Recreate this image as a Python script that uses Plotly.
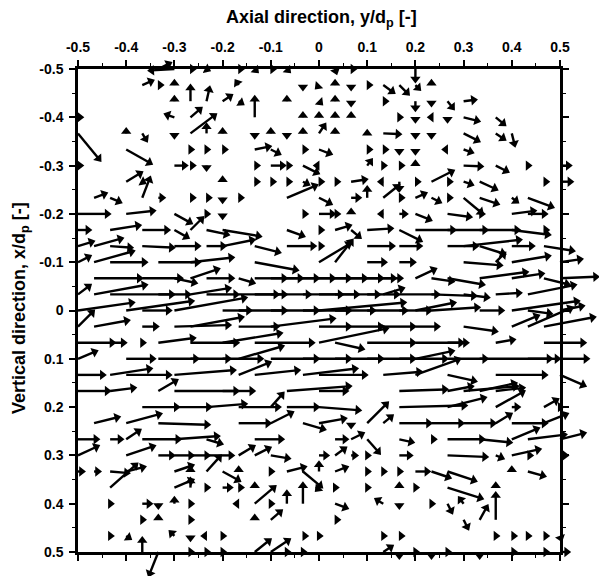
import math
import plotly.graph_objects as go

# ---------------- data ----------------
# measurement grid: 31 x 31 points, spacing 1/30 d_p
grid_x = [-0.5 + k / 30 for k in range(31)]   # axial positions y/dp
grid_y = [-0.5 + j / 30 for j in range(31)]   # vertical positions x/dp

# velocity vectors per grid row: (column index, u, v)  [u, v in grid-cell units]
row00 = [(5,0.8,-0.4),(6,-1.6,0.1),(7,0.3,0),(8,0.2,0.1),(10,0.3,0),(11,0.2,0.2),(12,0.3,0),(13,0.2,0.2),(16,0.1,0.3),(17,0.3,0),(21,0,0.8)]
row01 = [(4,0.7,-0.3),(5,0.3,0),(6,0,-0.3),(10,-0.2,-0.3),(14,0,0.3),(15,-0.2,0.2),(16,0,-0.3),(17,0,0.3),(18,0.3,0),(19,0.7,0.5),(20,0.6,0.6),(21,0.3,0.3),(22,0,-0.3)]
row02 = [(6,0,-0.3),(7,0,-1.0),(8,0.2,-0.9),(9,0.6,-0.4),(10,0.3,0.2),(13,0,-0.3),(15,0.2,0.2),(16,0,-0.3),(17,0,0.3),(19,0.3,0),(21,0,0.6),(22,0,0.3),(23,0.4,0.5),(24,0.8,-0.1)]
row03 = [(0,0.3,0),(6,-0.6,-0.2),(7,0.7,-0.6),(11,0,-1.3),(14,0,-0.3),(15,0,-0.3),(16,0,-0.3),(17,0,-0.3),(20,0.2,0),(21,0,0.3),(22,-0.2,0),(23,0,0.3),(24,1.0,0.25),(26,0.6,0.5)]
row04 = [(0,1.4,1.7),(3,0,-0.3),(4,0.3,0.5),(6,0,0.3),(7,1.6,-1.2),(8,0,-0.6),(9,0,-0.3),(11,0,0.3),(12,0,-0.3),(13,0,0.3),(14,0,-0.3),(15,0.4,-0.6),(16,0,-0.3),(18,0,-0.2),(19,1.1,0.05),(21,0,0.3),(22,0,0.3),(24,1.0,0.5),(26,0.6,0.4),(27,0.2,0.8)]
row05 = [(3,1.6,0.9),(7,0.2,0),(8,0.2,0),(9,0.3,0),(11,1.0,-0.2),(12,0.6,0.3),(14,0.3,0),(15,0.8,0.3),(18,0.3,0),(19,0.3,0),(20,0,0.3),(21,0,0.3),(23,-0.3,0),(24,0.6,0.2)]
row06 = [(0,0.3,0),(6,0.8,0),(7,0.3,0),(8,0,0.3),(11,0.3,0),(12,0.9,0),(13,0.3,0),(14,1.0,0.5),(15,-0.3,0),(18,0.3,-0.4),(19,0.2,0),(20,0.3,0),(21,0,-0.3),(24,1.2,0.05),(26,0.8,0.4),(28,0.2,0),(30,0.7,0)]
row07 = [(3,1.0,-0.6),(4,0.2,0.1),(9,0,-0.3),(11,0.3,0),(12,0.3,0),(13,0.3,0),(14,0.4,0.2),(15,0.3,0),(16,0.3,0),(17,1.0,-0.15),(19,-0.3,0),(20,0,0.6),(21,0.3,0),(22,1.4,-0.7),(23,0.3,0),(24,0.6,0.2),(25,1.1,0.5),(29,0.3,0),(30,0.8,0)]
row08 = [(1,0.8,-0.3),(2,0.7,0.3),(4,0.5,-1.3),(5,0.4,0),(7,0.3,0),(8,0.3,0),(9,0,0.3),(10,0.3,0),(13,1.9,-0.8),(15,0.8,0.4),(17,0.6,0),(18,0,-0.7),(19,1.0,-0.8),(20,0.3,0),(21,0.7,-0.3),(22,0.6,0.3),(23,0.3,0),(24,1.2,1.0),(25,1.2,0.4),(27,0.4,0.3),(28,1.6,0.6)]
row09 = [(0,2.0,0),(3,1.8,-0.2),(6,1.1,0.6),(8,0.2,0),(9,0,0.3),(14,0.3,0),(15,1.0,0),(16,0.3,0),(17,0,-0.3),(19,-0.3,0),(20,0.5,0),(21,1.0,0.4),(23,1.5,0.2),(25,0.3,0),(27,1.5,-0.2),(28,1.2,0)]
row10 = [(0,0.8,0),(2,1.9,-0.3),(4,1.7,0),(6,0.9,0.5),(7,0.8,-0.8),(8,1.4,0.3),(9,2.4,0.4),(13,1.1,0.4),(15,0.3,0),(16,1.0,-0.3),(17,0.6,0.5),(18,1.6,-0.1),(20,1.4,0.7),(21,2.5,0),(23,2.5,0),(25,2.5,0),(27,2.4,0.3),(29,0.3,0)]
row11 = [(0,1.0,-0.3),(1,1.8,-0.5),(2,1.4,0.1),(4,2.0,0.1),(6,1.6,0),(8,1.2,0),(9,2.0,-0.4),(11,1.6,0.4),(13,1.8,0),(15,0.3,0),(18,1.7,0),(20,1.4,0),(23,1.9,0),(24,3.6,-0.4),(25,1.6,0.5),(27,1.4,0),(29,1.9,0.3)]
row12 = [(0,0.8,-0.4),(1,2.5,-0.7),(2,2.3,0),(5,2.6,0),(7,2.7,-0.3),(11,2.7,0.5),(15,2.0,-1.2),(16,1.1,-1.4),(18,1.2,0),(20,1.0,0),(24,2.4,0.2),(26,0.6,-0.6),(27,2.4,-0.4),(30,1.4,-0.2)]
row13 = [(1,3.0,0),(4,2.5,0),(6,1.4,0.3),(7,1.8,-0.6),(8,1.7,0),(10,1.0,0.3),(11,2.0,0),(12,2.0,0),(13,2.0,0),(14,2.0,0),(15,2.0,0),(16,2.0,0),(17,2.0,0),(18,1.8,0),(19,1.2,0),(21,1.3,-0.6),(22,1.4,0.2),(23,2.3,0.4),(25,3.0,-0.4),(27,2.0,-0.3),(29,1.6,0.4),(30,2.4,-0.1)]
row14 = [(0,0.8,-0.6),(1,3.3,-0.6),(2,4.0,0),(5,2.0,0),(7,2.5,-0.4),(8,2.0,0),(10,2.5,0),(11,2.0,0),(12,2.5,0),(14,2.5,0),(15,2.5,0),(16,2.8,0),(18,2.0,0),(19,1.3,-0.4),(20,2.5,0),(22,2.8,0.1),(24,1.6,0.2),(26,1.6,-0.1),(28,3.0,-0.6)]
row15 = [(0,3.5,-0.5),(3,4.2,-0.6),(4,1.8,0),(6,4.5,-0.8),(9,1.8,0),(10,3.0,0),(12,3.0,0),(14,3.0,0),(15,5.4,-0.5),(16,2.5,0),(18,2.5,0),(20,2.0,0),(21,2.5,-0.5),(22,3.0,-0.2),(25,1.5,0),(27,4.2,-0.6),(28,1.5,0.2),(30,1.5,-0.3)]
row16 = [(0,1.0,-1.0),(1,2.2,-0.4),(4,1.0,0),(6,3.5,-0.1),(7,3.3,-0.6),(10,2.5,0),(12,4.0,-0.5),(15,2.0,0),(17,2.0,0),(19,2.0,0),(21,1.5,0),(24,2.1,0.3),(27,1.7,-0.7),(28,2.8,-1.2),(29,3.2,-0.6)]
row17 = [(0,3.0,0),(2,0.3,0),(4,0.2,0),(5,2.3,-0.3),(7,3.0,0),(9,3.7,-0.6),(11,3.7,0),(15,4.3,-0.9),(16,1.8,0.4),(18,3.0,0),(21,3.3,0),(23,1.0,0),(26,1.2,-0.2),(29,2.6,0)]
row18 = [(0,1.2,-0.5),(3,1.8,0),(5,2.5,0),(7,2.5,0),(9,2.5,0),(10,2.8,-0.8),(12,3.0,0),(14,3.0,0),(16,3.0,0),(18,3.0,0),(20,3.0,0),(21,2.4,-0.5),(23,2.5,0),(25,4.5,0),(28,2.0,0),(30,1.8,0)]
row19 = [(0,1.7,0),(2,2.6,-0.4),(3,2.8,0),(6,3.8,-0.3),(10,2.0,-0.8),(11,2.8,-0.3),(14,3.4,-0.4),(15,3.0,0),(19,2.4,-0.2),(21,2.8,-1.0),(23,1.8,0.4),(26,3.2,0),(30,1.6,0.7)]
row20 = [(0,2.0,0),(2,1.6,-0.2),(5,1.2,-0.7),(6,4.0,0),(9,2.0,0),(13,4.0,-0.3),(15,1.8,0),(20,3.0,-0.1),(23,1.6,-0.3),(24,3.4,-0.3),(25,2.3,-0.5),(26,1.8,-0.2)]
row21 = [(4,2.3,0),(6,2.3,0),(8,2.5,-0.2),(10,2.6,0),(12,0.8,-0.9),(13,2.0,0),(15,2.6,0.2),(20,4.2,-0.1),(23,2.4,-0.6),(26,1.8,-1.0),(27,0.5,0),(29,0.9,-0.5),(30,0.2,0)]
row22 = [(1,1.6,-0.4),(3,2.2,-0.6),(5,3.2,0.1),(10,2.0,0),(12,1.4,-0.7),(14,1.4,0.4),(15,1.7,-0.3),(17,0,0.3),(18,1.3,-1.3),(19,0.6,-0.5),(20,2.0,0),(22,2.0,0),(24,2.0,0),(26,1.0,-0.6),(27,2.2,0),(29,1.5,-0.6)]
row23 = [(0,1.3,0),(2,0.8,0),(3,0.9,-0.6),(4,2.4,0),(6,2.8,-0.2),(8,1.0,0.3),(11,1.8,0),(16,0.8,0),(17,0.8,-0.4),(18,0.8,0.9),(20,0.9,0.2),(22,0.3,0),(23,2.3,0),(25,2.0,0.2),(27,1.7,-0.7),(28,2.4,-0.3),(30,1.6,-0.4)]
row24 = [(0,1.3,-0.6),(3,1.8,-0.6),(5,1.0,0),(6,1.2,0),(7,1.2,0),(8,1.7,0),(10,1.0,-0.6),(11,1.0,-0.5),(12,1.2,0.2),(15,0.6,0),(16,0.7,-0.5),(17,0.4,0),(18,0.2,0),(20,0.8,0),(23,2.5,0.1),(26,0.5,0.2),(27,1.8,-0.4),(28,0.3,0),(30,0.5,0)]
row25 = [(0,0.4,0),(1,0.4,0),(2,1.2,0.1),(3,1.2,-0.3),(6,1.2,-0.4),(7,0,-0.3),(8,0.9,-1.0),(9,1.1,0.6),(10,0,-0.3),(12,0.2,0),(13,1.2,-0.3),(14,1.2,1.0),(15,0,-0.6),(16,0.8,-0.3),(18,0.2,0),(19,0.2,0),(20,0.2,0),(21,0.9,0),(22,1.2,0.4),(23,1.8,0.6),(27,0,-0.3),(28,1.1,0.3)]
row26 = [(2,1.7,-1.5),(6,1.2,-0.5),(7,0,-0.6),(8,0.2,0),(9,0.6,0),(10,0.3,0),(11,0,-0.3),(15,-0.2,0.2),(16,0.2,0),(18,0.2,0),(20,0,-0.3),(21,0.2,0),(23,2.2,0.7),(26,0,-0.3)]
row27 = [(2,0.2,0),(4,0.6,0),(5,0,0.3),(6,0,-0.4),(7,0.2,0),(10,-0.3,0),(11,1.3,-1.1),(12,0.2,0),(13,0,-0.8),(14,0,-1.3),(16,0.8,0.3),(19,-0.5,-0.3),(20,0,0.3),(22,0.2,0),(23,0.3,0.6),(24,-0.3,-0.4)]
row28 = [(4,0.2,0),(5,0,-0.3),(7,0.2,0),(11,0,-0.3),(12,0.7,-0.6),(16,0.3,0),(24,0.3,0.6),(25,0.5,-0.9),(26,0,-1.7)]
row29 = [(2,0.2,0),(3,0.3,0.2),(6,-0.3,-0.3),(7,0,0.3),(8,-0.3,0),(9,0.2,0),(14,0.3,0),(15,0.2,0),(19,0.2,0),(20,0.3,0),(26,0.2,0),(27,0.3,0),(28,0.2,0),(29,0.3,0),(30,0.1,0.3)]
row30 = [(4,0,-0.9),(5,-0.6,1.5),(7,0.2,0),(8,0.2,0),(9,0.2,0),(11,1.0,-0.8),(12,1.2,-0.8),(13,0.2,0),(14,0.2,0),(19,0.6,-0.4),(20,0,0.4),(21,0.2,0),(22,0,0.4),(23,0.2,0),(25,0,0.4),(27,0.3,0),(29,0.3,0),(30,0.6,0)]

rows = [row00, row01, row02, row03, row04, row05, row06, row07, row08, row09,
        row10, row11, row12, row13, row14, row15, row16, row17, row18, row19,
        row20, row21, row22, row23, row24, row25, row26, row27, row28, row29, row30]

tick_vals = [-0.5, -0.4, -0.3, -0.2, -0.1, 0, 0.1, 0.2, 0.3, 0.4, 0.5]
tick_text = ["-0.5", "-0.4", "-0.3", "-0.2", "-0.1", "0", "0.1", "0.2", "0.3", "0.4", "0.5"]
minor_vals = [-0.45, -0.35, -0.25, -0.15, -0.05, 0.05, 0.15, 0.25, 0.35, 0.45]

# ---------------- layout geometry ----------------
W, H = 599, 576
px_l, px_r, px_t, px_b = 78, 560, 69, 552
xd = [px_l / W, px_r / W]
yd = [1 - px_b / H, 1 - px_t / H]
sx = (px_r - px_l)          # pixels per data unit (x)
sy = (px_b - px_t)          # pixels per data unit (y)
S = 1 / 30                  # data length of one vector unit

# overlay axes spanning the whole paper with identical scale (so arrows may cross the frame)
xr2 = [-0.5 - xd[0] / (xd[1] - xd[0]), -0.5 + (1 - xd[0]) / (xd[1] - xd[0])]
yr2 = [0.5 + yd[0] / (yd[1] - yd[0]), 0.5 - (1 - yd[0]) / (yd[1] - yd[0])]

lx, ly, hx, hy, ang = [], [], [], [], []
for j, row in enumerate(rows):
    y0 = grid_y[j]
    for k, u, v in row:
        x0 = grid_x[k]
        x1 = x0 + u * S
        y1 = y0 + v * S
        dxp, dyp = u * S * sx, v * S * sy
        L = math.hypot(dxp, dyp)
        if L == 0:
            continue
        back = 3.0
        cx = x1 - dxp / L * back / sx
        cy = y1 - dyp / L * back / sy
        lx += [x0, cx, None]
        ly += [y0, cy, None]
        hx.append(cx)
        hy.append(cy)
        ang.append(math.degrees(math.atan2(dxp, -dyp)))

fig = go.Figure()
# invisible anchor trace for main axes
fig.add_trace(go.Scatter(x=[-0.5, 0.5], y=[-0.5, 0.5], mode="markers",
                         marker=dict(opacity=0), hoverinfo="skip"))
fig.add_trace(go.Scatter(x=lx, y=ly, mode="lines", xaxis="x2", yaxis="y2",
                         line=dict(color="black", width=2.4), hoverinfo="skip"))
fig.add_trace(go.Scatter(x=hx, y=hy, mode="markers", xaxis="x2", yaxis="y2",
                         marker=dict(symbol="triangle-up", size=9, angle=ang, color="black",
                                     line=dict(width=0)),
                         hoverinfo="skip", cliponaxis=False))

tickfont = dict(family="Liberation Sans, Arial, sans-serif", size=14, color="black", weight="bold")
axis_common = dict(
    tickmode="array", tickvals=tick_vals, ticktext=tick_text,
    ticks="outside", ticklen=6, tickwidth=1.5, tickcolor="black",
    minor=dict(tickvals=minor_vals, ticks="outside", ticklen=3, tickwidth=1.2, tickcolor="black"),
    showline=True, linewidth=2.5, linecolor="black", mirror="ticks",
    showgrid=False, zeroline=False, tickfont=tickfont, ticklabelstandoff=3,
    fixedrange=True, automargin=False,
)
fig.update_layout(
    width=W, height=H,
    margin=dict(l=0, r=0, t=0, b=0, pad=0, autoexpand=False),
    paper_bgcolor="white", plot_bgcolor="rgba(0,0,0,0)",
    showlegend=False,
    xaxis=dict(domain=xd, range=[-0.5, 0.5], side="top", anchor="y", **axis_common),
    yaxis=dict(domain=yd, range=[0.5, -0.5], anchor="x", **axis_common),
    xaxis2=dict(domain=[0, 1], range=xr2, anchor="y2", visible=False, fixedrange=True, automargin=False),
    yaxis2=dict(domain=[0, 1], range=yr2, anchor="x2", visible=False, fixedrange=True, automargin=False),
    annotations=[
        dict(text="Axial direction, y/d<sub>p</sub> [-]", xref="paper", yref="paper",
             x=321 / W, y=1 - 18 / H, xanchor="center", yanchor="middle", showarrow=False,
             font=dict(family="Liberation Sans, Arial, sans-serif", size=18, color="black", weight="bold")),
        dict(text="Vertical direction, x/d<sub>p</sub> [-]", xref="paper", yref="paper",
             x=20 / W, y=1 - 308 / H, xanchor="center", yanchor="middle", showarrow=False,
             textangle=-90,
             font=dict(family="Liberation Sans, Arial, sans-serif", size=18, color="black", weight="bold")),
    ],
)
fig.write_html("out.html", config={"displayModeBar": False},
               post_script="document.body.style.margin='0px';document.body.style.padding='0px';")
